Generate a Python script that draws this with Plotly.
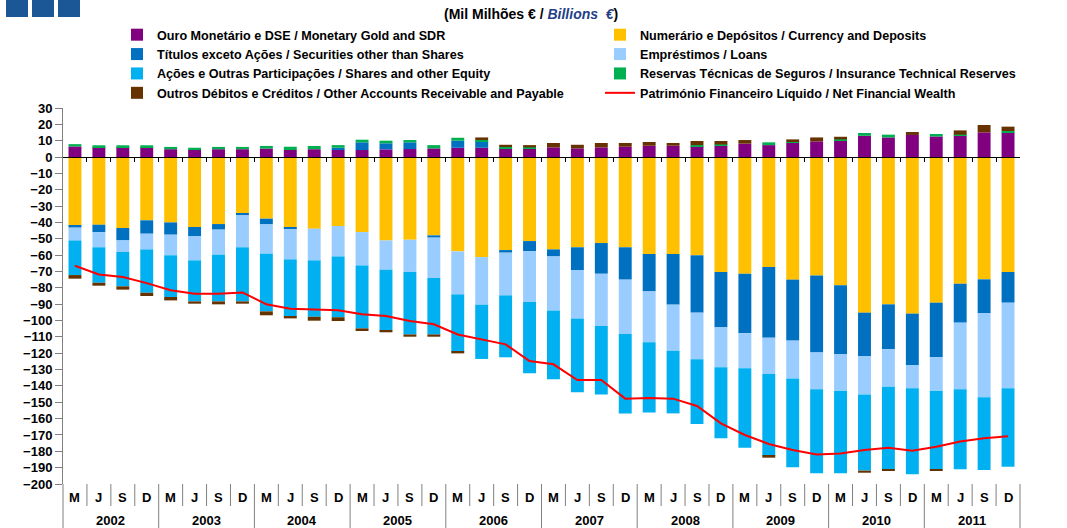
import plotly.graph_objects as go

# ---- data (Mil Milhões € / Billions €) ----
years = [2002, 2003, 2004, 2005, 2006, 2007, 2008, 2009, 2010, 2011]
quarter_labels = ["M", "J", "S", "D"]

gold = [6.5, 6.0, 6.0, 6.0, 4.8, 4.3, 4.8, 4.8, 5.2, 4.3, 4.8, 4.3, 4.3, 4.7, 4.9, 5.3, 5.7, 5.7, 5.3, 5.1,
        5.9, 5.3, 5.9, 6.3, 6.9, 6.9, 6.7, 6.9, 8.2, 7.3, 8.6, 9.6, 10.2, 13.0, 12.0, 13.5, 12.6, 13.0, 15.1, 15.3]
currency = [-42.0, -41.4, -43.4, -38.7, -40.0, -42.8, -41.0, -34.7, -37.7, -43.4, -43.8, -42.2, -45.9, -51.0,
            -50.6, -47.9, -57.7, -61.2, -56.9, -51.4, -56.5, -55.2, -52.6, -55.2, -59.3, -59.3, -60.1, -70.3,
            -71.4, -67.3, -75.0, -72.4, -78.5, -95.2, -90.1, -95.8, -89.1, -77.5, -74.8, -70.3]
securities = [-1.2, -4.5, -7.6, -8.2, -7.5, -5.5, -3.4, -1.0, -3.5, -0.8, 0.0, 1.4, 4.7, 3.7, 4.1, -1.4, 4.3,
              4.1, -1.6, -6.1, -4.3, -13.9, -18.8, -19.8, -22.9, -31.0, -35.1, -33.9, -36.4, -43.2, -37.3,
              -47.1, -42.0, -26.5, -27.5, -31.4, -33.4, -23.8, -20.8, -18.8]
loans = [-7.8, -9.3, -7.1, -9.6, -12.6, -14.9, -15.3, -19.5, -17.9, -18.4, -19.4, -18.6, -20.4, -17.9, -19.7,
         -24.7, -26.3, -29.1, -26.1, -31.2, -33.0, -29.6, -32.0, -33.3, -31.1, -28.2, -28.5, -24.4, -21.4,
         -22.2, -23.1, -22.6, -22.4, -23.5, -22.9, -14.3, -20.4, -40.8, -51.4, -52.4]
shares = [-21.2, -21.7, -21.0, -26.5, -25.5, -25.1, -28.6, -33.1, -35.3, -34.9, -34.5, -37.2, -38.5, -36.9,
          -38.2, -34.5, -35.1, -33.2, -37.9, -43.6, -42.2, -45.2, -41.8, -48.5, -42.9, -38.3, -39.6, -43.4,
          -48.6, -50.0, -54.4, -51.4, -50.6, -46.6, -50.5, -52.6, -48.1, -48.9, -44.4, -47.9]
insurance = [1.4, 1.2, 1.2, 1.2, 1.4, 1.4, 1.4, 1.4, 1.6, 2.0, 2.0, 1.6, 1.6, 1.6, 1.4, 2.0, 1.8, 0.6, 0.8,
             0.8, 0.0, 0.0, 0.0, 0.0, 0.0, 0.0, 0.6, 0.8, 0.0, 1.7, 0.6, 0.0, 0.6, 1.7, 1.7, 0.0, 1.5, 0.7,
             0.0, 0.6]
other = [-2.2, -1.8, -2.0, -2.0, -2.1, -1.4, -1.8, -1.4, -2.4, -1.2, -2.4, -2.3, -1.6, -1.4, -1.4, -1.4, -1.0,
         1.6, 1.4, 1.4, 2.7, 2.2, 2.7, 2.3, 2.3, 1.7, 2.5, 2.1, 2.2, -1.2, 1.6, 2.4, 1.6, -1.3, -1.0, 1.8,
         -1.0, 2.6, 4.5, 2.7]
nfw = [-66.5, -71.8, -73.4, -77.1, -81.5, -83.6, -83.6, -82.8, -90.1, -92.8, -93.3, -93.7, -96.2, -97.2,
       -100.3, -102.3, -108.5, -111.5, -114.6, -124.8, -126.8, -136.4, -136.4, -147.8, -147.4, -147.8, -152.3,
       -162.9, -170.0, -175.5, -179.2, -181.9, -181.3, -179.2, -177.8, -179.6, -177.2, -174.0, -172.0, -170.8]

names = {
    "gold": "Ouro Monetário e DSE / Monetary Gold and SDR",
    "currency": "Numerário e Depósitos / Currency and Deposits",
    "securities": "Títulos exceto Ações / Securities other than Shares",
    "loans": "Empréstimos / Loans",
    "shares": "Ações e Outras Participações / Shares and other Equity",
    "insurance": "Reservas Técnicas de Seguros / Insurance Technical Reserves",
    "other": "Outros Débitos e Créditos / Other Accounts Receivable and Payable",
    "nfw": "Património Financeiro Líquido / Net Financial Wealth",
}

# ---- geometry helpers ----
W, H = 1067, 528
ML, MR, MT, MB = 63, 47, 108, 44
PW, PH = W - ML - MR, H - MT - MB
YMIN, YMAX = -200, 30


def py(pixel_y):
    """pixel row -> paper y"""
    return (H - MB - pixel_y) / PH


def px(pixel_x):
    return (pixel_x - ML) / PW


FONT = "Liberation Sans, Arial, sans-serif"
n = len(years) * len(quarter_labels)
xs = list(range(n))

fig = go.Figure()
series = [
    ("gold", gold, "#800080", "legend"),
    ("currency", currency, "#FFC000", "legend2"),
    ("securities", securities, "#0070C0", "legend"),
    ("loans", loans, "#99CCFF", "legend2"),
    ("shares", shares, "#00B0F0", "legend"),
    ("insurance", insurance, "#00B050", "legend2"),
    ("other", other, "#663300", "legend"),
]
for key, vals, col, lg in series:
    fig.add_trace(go.Bar(x=xs, y=vals, name=names[key], marker=dict(color=col, line=dict(width=0)),
                         legend=lg))

fig.add_trace(go.Scatter(x=xs, y=nfw, mode="lines", name=names["nfw"],
                         line=dict(color="#FF0000", width=2), legend="legend2"))

zero_pos = (0 - YMIN) / (YMAX - YMIN)
tick_font = dict(family=FONT, size=13, weight="bold", color="black")
legend_font = dict(family=FONT, size=12.6, weight="bold", color="black")
fig.update_layout(
    width=W, height=H, autosize=False,
    margin=dict(l=ML, r=MR, t=MT, b=MB, autoexpand=False),
    paper_bgcolor="white", plot_bgcolor="white",
    barmode="relative", bargap=0.46,
    font=dict(family=FONT, color="black"),
    xaxis=dict(range=[-0.5, n - 0.5], showgrid=False, zeroline=False,
               anchor="free", position=zero_pos,
               showline=True, linecolor="black", linewidth=1.3,
               ticks="outside", ticklen=4, tickcolor="black", tickwidth=1,
               tickvals=[i + 0.5 for i in range(n - 1)], showticklabels=False),
    yaxis=dict(range=[YMIN, YMAX], tickvals=list(range(YMIN, YMAX + 1, 10)),
               showgrid=False, zeroline=False, showline=True, linecolor="#808080", linewidth=1,
               ticks="outside", ticklen=7, tickcolor="#808080", tickfont=tick_font),
    yaxis2=dict(range=[YMIN, YMAX], tickvals=list(range(YMIN, YMAX + 1, 10)), overlaying="y", side="right",
                showgrid=False, zeroline=False, showline=True, linecolor="#808080", linewidth=1,
                ticks="outside", ticklen=7, tickcolor="#808080", tickfont=tick_font),
    legend=dict(x=px(117), y=py(20), xanchor="left", yanchor="top", orientation="v",
                font=legend_font, bgcolor="rgba(0,0,0,0)", traceorder="normal", tracegroupgap=0),
    legend2=dict(x=px(600), y=py(20), xanchor="left", yanchor="top", orientation="v",
                 font=legend_font, bgcolor="rgba(0,0,0,0)", traceorder="normal", tracegroupgap=0),
    showlegend=True,
)

shapes = []
# axis extensions below plot
for xp in (0, 1):
    shapes.append(dict(type="line", xref="paper", yref="paper", x0=xp, x1=xp, y0=py(528), y1=0,
                       line=dict(color="#808080", width=1)))
for i in range(n - 1):
    b = i + 0.5
    year_boundary = (i + 1) % len(quarter_labels) == 0
    shapes.append(dict(type="line", xref="x", yref="paper", x0=b, x1=b, y0=py(528 if year_boundary else 506),
                       y1=0, line=dict(color="#808080", width=1)))
# header squares (decoration)
for x0 in (6, 32, 58):
    shapes.append(dict(type="rect", xref="paper", yref="paper", x0=px(x0), x1=px(x0 + 22), y0=py(17),
                       y1=py(0), fillcolor="#1B5797", line=dict(width=0)))
fig.update_layout(shapes=shapes)

annotations = []
for i in range(n):
    annotations.append(dict(x=i, y=py(497), xref="x", yref="paper", showarrow=False,
                            xanchor="center", yanchor="middle",
                            text=quarter_labels[i % len(quarter_labels)], font=tick_font))
for k, yr in enumerate(years):
    annotations.append(dict(x=k * 4 + 1.5, y=py(520), xref="x", yref="paper", showarrow=False,
                            xanchor="center", yanchor="middle",
                            text=str(yr), font=tick_font))
annotations.append(dict(x=px(531), y=py(14), xref="paper", yref="paper", showarrow=False,
                        xanchor="center", yanchor="middle",
                        text="(Mil Milhões € / <i><span style='color:#1F3F86'>Billions  €</span></i>)",
                        font=dict(family=FONT, size=14, weight="bold", color="black")))
fig.update_layout(annotations=annotations)

fig.write_html("out.html", config={"displayModeBar": False},
               post_script="document.body.style.margin='0px';document.body.style.overflow='hidden';")
